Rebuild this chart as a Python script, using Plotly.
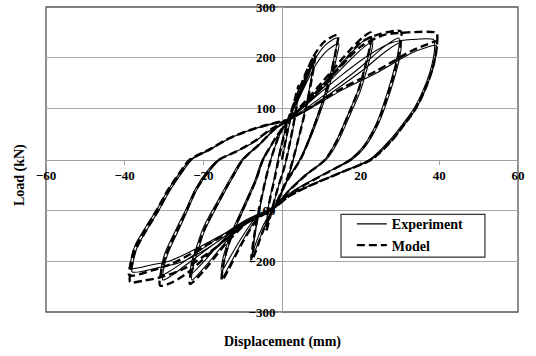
import plotly.graph_objects as go

# ---------------- Experiment (solid) : hysteresis cycles ----------------
EXP_C0_X = [0, 1.5, 3.0, 4.2, 3.7, 2.4, 0.8, -1.0, -2.4, -3.9, -3.4, -2.0, -0.4, 1.5]
EXP_C0_Y = [0, 55, 105, 138, 100, 45, -10, -55, -95, -132, -90, -38, 22, 76]

EXP_C1_X = [1.5, 4.0, 6.4, 8.2, 7.6, 6.2, 4.2, 1.8, -2.0, -4.6, -6.6, -7.6, -7.0, -5.4, -3.4, -0.8, 1.5]
EXP_C1_Y = [76, 125, 170, 197, 165, 110, 40, -30, -93, -135, -175, -193, -150, -85, -15, 45, 76]

EXP_C2_X = [1.5, 4.2, 6.6, 8.0, 7.4, 6.0, 4.0, 1.5, -2.0, -4.8, -6.8, -7.4, -6.8, -5.2, -3.2, -0.6, 1.5]
EXP_C2_Y = [76, 120, 163, 188, 158, 102, 35, -35, -93, -130, -168, -185, -145, -80, -10, 48, 76]

EXP_C3_X = [1.5, 4.5, 8.0, 11.0, 14.0, 13.5, 12.2, 10.3, 8.0, 6.0, 4.5, 1.0, -2.0, -6.0, -10.0, -13.5, -15.1,
            -14.8, -13.6, -11.6, -9.0, -6.5, -4.7, -1.5, 1.5]
EXP_C3_Y = [76, 130, 192, 225, 239, 210, 165, 115, 65, 25, 0, -45, -93, -112, -160, -210, -231,
            -205, -170, -130, -85, -40, 0, 42, 76]

EXP_C4_X = [1.5, 4.8, 8.5, 11.6, 14.4, 13.9, 12.6, 10.6, 8.3, 6.2, 4.7, 1.2, -2.0, -6.4, -10.6, -14.0, -15.4,
            -15.1, -13.9, -11.9, -9.3, -6.8, -5.0, -1.6, 1.5]
EXP_C4_Y = [76, 128, 185, 215, 228, 202, 160, 112, 63, 24, 0, -44, -93, -112, -158, -203, -220,
            -197, -165, -127, -83, -39, 0, 41, 76]

EXP_C5_X = [1.5, 6.0, 12.0, 17.0, 20.5, 22.7, 22.3, 21.3, 19.4, 17.3, 13.9, 10.9, 6.0, 1.5, -2.0, -8.0, -14.0,
            -19.5, -22.9, -22.6, -21.6, -19.6, -15.7, -12.4, -9.8, -5.6, -2.0, 1.5]
EXP_C5_Y = [76, 112, 162, 205, 232, 242, 215, 185, 137, 98, 38, 0, -30, -62, -93, -118, -160,
            -210, -237, -212, -185, -139, -80, -34, 0, 30, 58, 76]

EXP_C6_X = [1.5, 6.4, 12.6, 17.6, 21.0, 23.0, 22.6, 21.6, 19.8, 17.7, 14.3, 11.3, 6.4, 1.8, -2.0, -8.4, -14.6,
            -20.0, -23.3, -23.0, -22.0, -20.0, -16.1, -12.8, -10.2, -5.9, -2.2, 1.5]
EXP_C6_Y = [76, 110, 158, 198, 222, 232, 207, 178, 132, 95, 36, 0, -29, -61, -93, -116, -155,
            -202, -226, -203, -178, -134, -78, -33, 0, 29, 57, 76]

EXP_C7_X = [1.5, 6.0, 11.3, 20.0, 26.0, 29.7, 29.5, 28.6, 27.0, 24.0, 20.6, 17.3, 11.0, 5.0, 1.0, -2.0, -9.0,
            -17.0, -24.0, -28.0, -30.3, -30.0, -29.0, -26.3, -24.0, -21.7, -18.3, -15.7, -11.5, -7.0, -3.5, 1.5]
EXP_C7_Y = [76, 100, 130, 182, 222, 239, 210, 180, 137, 71, 25, 0, -27, -52, -72, -93, -122,
            -165, -205, -228, -237, -212, -185, -139, -100, -60, -21, 0, 16, 35, 55, 76]

EXP_C8_X = [1.5, 6.3, 11.8, 20.6, 26.6, 30.2, 30.0, 29.1, 27.5, 24.5, 21.0, 17.8, 11.4, 5.3, 1.2, -2.0, -9.4,
            -17.5, -24.5, -28.6, -30.8, -30.5, -29.5, -26.8, -24.4, -22.1, -18.7, -16.1, -11.8, -7.2, -3.6, 1.5]
EXP_C8_Y = [76, 98, 127, 176, 214, 230, 204, 175, 133, 70, 24, 0, -26, -51, -71, -93, -120,
            -161, -199, -220, -228, -205, -179, -135, -98, -59, -20, 0, 15, 34, 54, 76]

EXP_C9_X = [1.5, 8.0, 15.0, 22.0, 28.0, 33.0, 38.5, 38.8, 38.6, 37.6, 35.8, 33.5, 30.8, 27.4, 22.3, 15.0, 8.0,
            2.0, -2.0, -10.0, -18.0, -25.0, -31.0, -38.1, -37.8, -36.8, -34.4, -31.3, -28.4, -25.0, -22.9,
            -18.3, -13.2, -8.1, -3.9, 1.5]
EXP_C9_Y = [76, 120, 165, 205, 230, 236, 236, 229, 205, 172, 135, 100, 71, 38, 0, -25, -48,
            -70, -93, -126, -170, -200, -212, -221, -200, -172, -139, -100, -60, -21, 0,
            19, 42, 58, 68, 76]

EXP_C10_X = [1.5, 6.7, 15.4, 24.0, 32.8, 36.5, 39.2, 39.0, 38.0, 36.2, 33.9, 31.2, 27.8, 22.7, 15.4, 8.3, 2.2,
             -2.0, -10.0, -20.0, -28.0, -33.0, -38.6, -38.3, -37.3, -34.9, -31.8, -28.9, -25.4, -23.3,
             -18.6, -13.5, -8.3, -4.0, 1.5]
EXP_C10_Y = [76, 98, 137, 170, 209, 220, 224, 202, 170, 133, 98, 70, 37, 0, -24, -47, -69,
             -93, -126, -168, -198, -207, -214, -195, -168, -136, -98, -59, -20, 0,
             19, 41, 57, 67, 76]

# ---------------- Model (dashed) ----------------
MOD_C0_X = [0, 1.5, 3.0, 4.2, 3.6, 2.2, 0.6, -1.2, -2.6, -4.0, -3.4, -1.8, -0.2, 1.5]
MOD_C0_Y = [0, 60, 110, 145, 100, 40, -15, -60, -100, -140, -92, -35, 25, 78]

MOD_C1_X = [1.5, 4.0, 6.6, 8.4, 7.7, 6.2, 4.0, 1.4, -2.0, -4.8, -6.9, -7.8, -7.1, -5.4, -3.2, -0.6, 1.5]
MOD_C1_Y = [78, 130, 180, 205, 165, 105, 35, -35, -95, -140, -185, -200, -152, -82, -10, 50, 78]

MOD_C2_X = [1.5, 4.5, 7.8, 10.8, 14.2, 13.7, 12.4, 10.5, 8.2, 6.2, 4.7, 1.0, -2.0, -6.0, -10.2, -13.7, -15.3,
            -15.0, -13.8, -11.8, -9.2, -6.6, -4.8, -1.5, 1.5]
MOD_C2_Y = [78, 135, 200, 232, 245, 215, 168, 117, 66, 26, 0, -46, -95, -115, -165, -218, -238,
            -210, -172, -131, -86, -40, 0, 44, 78]

MOD_C3_X = [1.5, 6.0, 12.0, 17.0, 20.5, 22.6, 22.3, 21.3, 19.5, 17.4, 14.0, 11.0, 6.0, 1.5, -2.0, -8.2, -14.2,
            -19.8, -23.4, -23.1, -22.0, -19.9, -15.9, -12.6, -9.9, -5.6, -2.0, 1.5]
MOD_C3_Y = [78, 115, 168, 213, 240, 250, 220, 188, 138, 98, 38, 0, -31, -64, -95, -120, -165,
            -218, -245, -218, -188, -140, -80, -34, 0, 31, 59, 78]

MOD_C4_X = [1.5, 6.0, 11.0, 16.0, 20.0, 25.0, 30.2, 30.0, 29.1, 27.4, 24.3, 20.8, 17.5, 11.2, 5.1, 1.0, -2.0,
            -9.0, -17.0, -23.5, -28.0, -31.0, -30.7, -29.6, -26.8, -24.3, -21.9, -18.5, -15.9, -11.6, -7.0,
            -3.5, 1.5]
MOD_C4_Y = [78, 110, 150, 195, 230, 247, 252, 222, 188, 140, 72, 25, 0, -27, -53, -73, -95,
            -125, -175, -220, -242, -248, -220, -190, -141, -101, -60, -21, 0, 16, 36,
            56, 78]

MOD_C5_X = [1.5, 8.0, 14.0, 20.0, 26.0, 32.0, 39.3, 39.5, 39.2, 38.2, 36.3, 34.0, 31.2, 27.8, 22.6, 15.2, 8.2,
            2.1, -2.0, -10.0, -18.0, -25.0, -31.0, -35.0, -38.6, -38.3, -37.3, -34.8, -31.6, -28.7, -25.3,
            -23.2, -18.5, -13.3, -8.2, -3.9, 1.5]
MOD_C5_Y = [78, 125, 175, 222, 245, 250, 249, 240, 212, 176, 138, 101, 71, 37, 0, -25, -48,
            -71, -95, -130, -180, -215, -232, -238, -241, -215, -180, -143, -102, -61, -21,
            0, 19, 42, 58, 68, 78]

MOD_C6_X = [1.5, 6.8, 15.5, 24.2, 33.0, 36.8, 39.3, 39.1, 38.1, 36.3, 34.0, 31.3, 27.9, 22.8, 15.5, 8.4, 2.2,
            -2.0, -10.0, -20.0, -28.0, -33.0, -38.8, -38.5, -37.5, -35.0, -31.9, -29.0, -25.5, -23.4,
            -18.7, -13.6, -8.4, -4.0, 1.5]
MOD_C6_Y = [78, 101, 141, 175, 214, 226, 232, 208, 174, 136, 100, 71, 37, 0, -24, -47, -70,
            -95, -128, -172, -205, -218, -228, -205, -175, -140, -100, -60, -20, 0,
            19, 41, 57, 67, 78]

X_TICKS = [-60, -40, -20, 20, 40, 60]
Y_TICKS = [-300, -200, -100, 100, 200, 300]

exp_x = (EXP_C0_X + EXP_C1_X + EXP_C2_X + EXP_C3_X + EXP_C4_X + EXP_C5_X + EXP_C6_X
         + EXP_C7_X + EXP_C8_X + EXP_C9_X + EXP_C10_X)
exp_y = (EXP_C0_Y + EXP_C1_Y + EXP_C2_Y + EXP_C3_Y + EXP_C4_Y + EXP_C5_Y + EXP_C6_Y
         + EXP_C7_Y + EXP_C8_Y + EXP_C9_Y + EXP_C10_Y)
mod_x = MOD_C0_X + MOD_C1_X + MOD_C2_X + MOD_C3_X + MOD_C4_X + MOD_C5_X + MOD_C6_X
mod_y = MOD_C0_Y + MOD_C1_Y + MOD_C2_Y + MOD_C3_Y + MOD_C4_Y + MOD_C5_Y + MOD_C6_Y

FONT = "Liberation Serif"

fig = go.Figure()
fig.add_trace(go.Scatter(x=exp_x, y=exp_y, mode="lines", name="Experiment",
                         line=dict(color="black", width=1.1, shape="spline", smoothing=0.8)))
fig.add_trace(go.Scatter(x=mod_x, y=mod_y, mode="lines", name="Model",
                         line=dict(color="black", width=2.4, dash="8px,4px", shape="spline", smoothing=0.8)))

axis_font = dict(family=FONT, size=13, color="black", weight="bold")
fig.update_layout(
    width=536, height=356,
    margin=dict(l=46, r=18, t=7, b=44, autoexpand=False),
    paper_bgcolor="white", plot_bgcolor="white",
    showlegend=True,
    legend=dict(x=0.648, y=0.34, xanchor="left", yanchor="top",
                borderwidth=0, bgcolor="rgba(0,0,0,0)",
                font=dict(family=FONT, size=14, color="black", weight="bold"),
                tracegroupgap=0),
    xaxis=dict(range=[-60, 60], tickvals=X_TICKS, showgrid=False, zeroline=False,
               showline=True, linecolor="#a0a0a0", linewidth=1,
               anchor="free", position=0.5, ticks="outside", ticklen=4, tickcolor="#a0a0a0",
               tickfont=axis_font, layer="below traces", ticklabeloverflow="allow",
               automargin=False),
    yaxis=dict(range=[-300, 300], tickvals=Y_TICKS, showgrid=True, gridcolor="#a8a8a8", gridwidth=1,
               zeroline=False, showline=True, linecolor="#a0a0a0", linewidth=1,
               anchor="free", position=0.5, ticks="outside", ticklen=4, tickcolor="#a0a0a0",
               tickfont=axis_font, layer="below traces", ticklabeloverflow="allow",
               automargin=False),
    shapes=[
        dict(type="rect", xref="paper", yref="paper", x0=0, y0=0, x1=1, y1=1,
             line=dict(color="#555555", width=1.3), layer="between"),
        dict(type="rect", xref="paper", yref="paper", x0=0.625, y0=0.180, x1=0.930, y1=0.320,
             line=dict(color="#333333", width=1.2), fillcolor="white", layer="above"),
    ],
    annotations=[
        dict(text="Displacement (mm)", xref="paper", yref="paper", x=0.5, y=-0.0995,
             xanchor="center", yanchor="middle", showarrow=False,
             font=dict(family=FONT, size=14, color="black", weight="bold")),
        dict(text="Load (kN)", xref="paper", yref="paper", x=-0.055, y=0.449, textangle=-90,
             xanchor="center", yanchor="middle", showarrow=False,
             font=dict(family=FONT, size=14, color="black", weight="bold")),
    ],
)

fig.write_html("out.html")
